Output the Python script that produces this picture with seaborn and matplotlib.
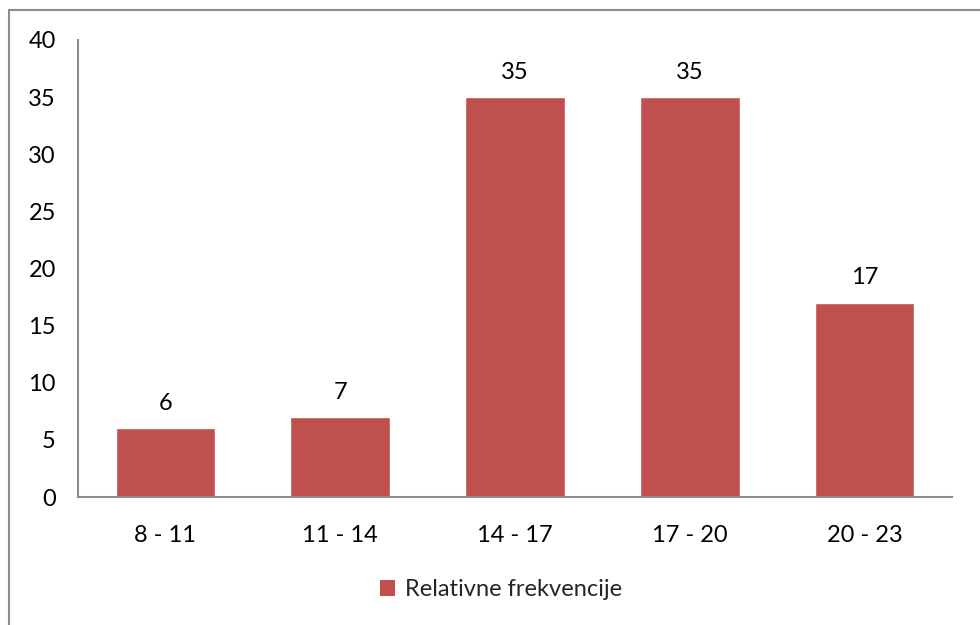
import matplotlib
matplotlib.use("Agg")
import matplotlib.pyplot as plt
from matplotlib.patches import Rectangle, Patch
import seaborn as sns
import pandas as pd

categories = ["8 - 11", "11 - 14", "14 - 17", "17 - 20", "20 - 23"]
values = [6, 7, 35, 35, 17]
series_name = "Relativne frekvencije"
y_ticks = [0, 5, 10, 15, 20, 25, 30, 35, 40]

sns.set_style("white")
plt.rcParams["font.family"] = ["Lato", "DejaVu Sans"]

df = pd.DataFrame({"interval": categories, "value": values})

fig = plt.figure(figsize=(9.8, 6.25), dpi=100)
ax = fig.add_axes([78 / 980, 1 - 497 / 625, (952 - 78) / 980, (497 - 40) / 625])

bar_color = "#C0504D"
sns.barplot(data=df, x="interval", y="value", color=bar_color, width=0.57,
            saturation=1, ax=ax)

for i, v in enumerate(values):
    ax.annotate(str(v), (i, v), xytext=(0, 18), textcoords="offset points",
                ha="center", va="center", fontsize=17, color="black")

ax.set_ylim(0, 40)
ax.set_xlim(-0.5, len(categories) - 0.5)
ax.set_yticks(y_ticks)
ax.tick_params(axis="both", length=0, labelsize=17, colors="black")
ax.tick_params(axis="y", pad=16)
ax.tick_params(axis="x", pad=20)
ax.set_xlabel("")
ax.set_ylabel("")

for side in ["top", "right"]:
    ax.spines[side].set_visible(False)
for side in ["left", "bottom"]:
    ax.spines[side].set_color("#8c8c8c")
    ax.spines[side].set_linewidth(1.5)

handle = Patch(facecolor=bar_color, edgecolor="none")
fig.legend([handle], [series_name], loc="center", bbox_to_anchor=(501 / 980, 1 - 590 / 625),
           frameon=False, fontsize=17, handlelength=0.65, handleheight=0.65,
           handletextpad=0.4)

# chart-area frame
fig.patches.append(Rectangle((9 / 980, -0.1), 1.2, 1 - 10 / 625 + 0.1,
                             transform=fig.transFigure, fill=False,
                             edgecolor="#8c8c8c", linewidth=1.5, zorder=0))

fig.savefig("out.png", dpi=100)
